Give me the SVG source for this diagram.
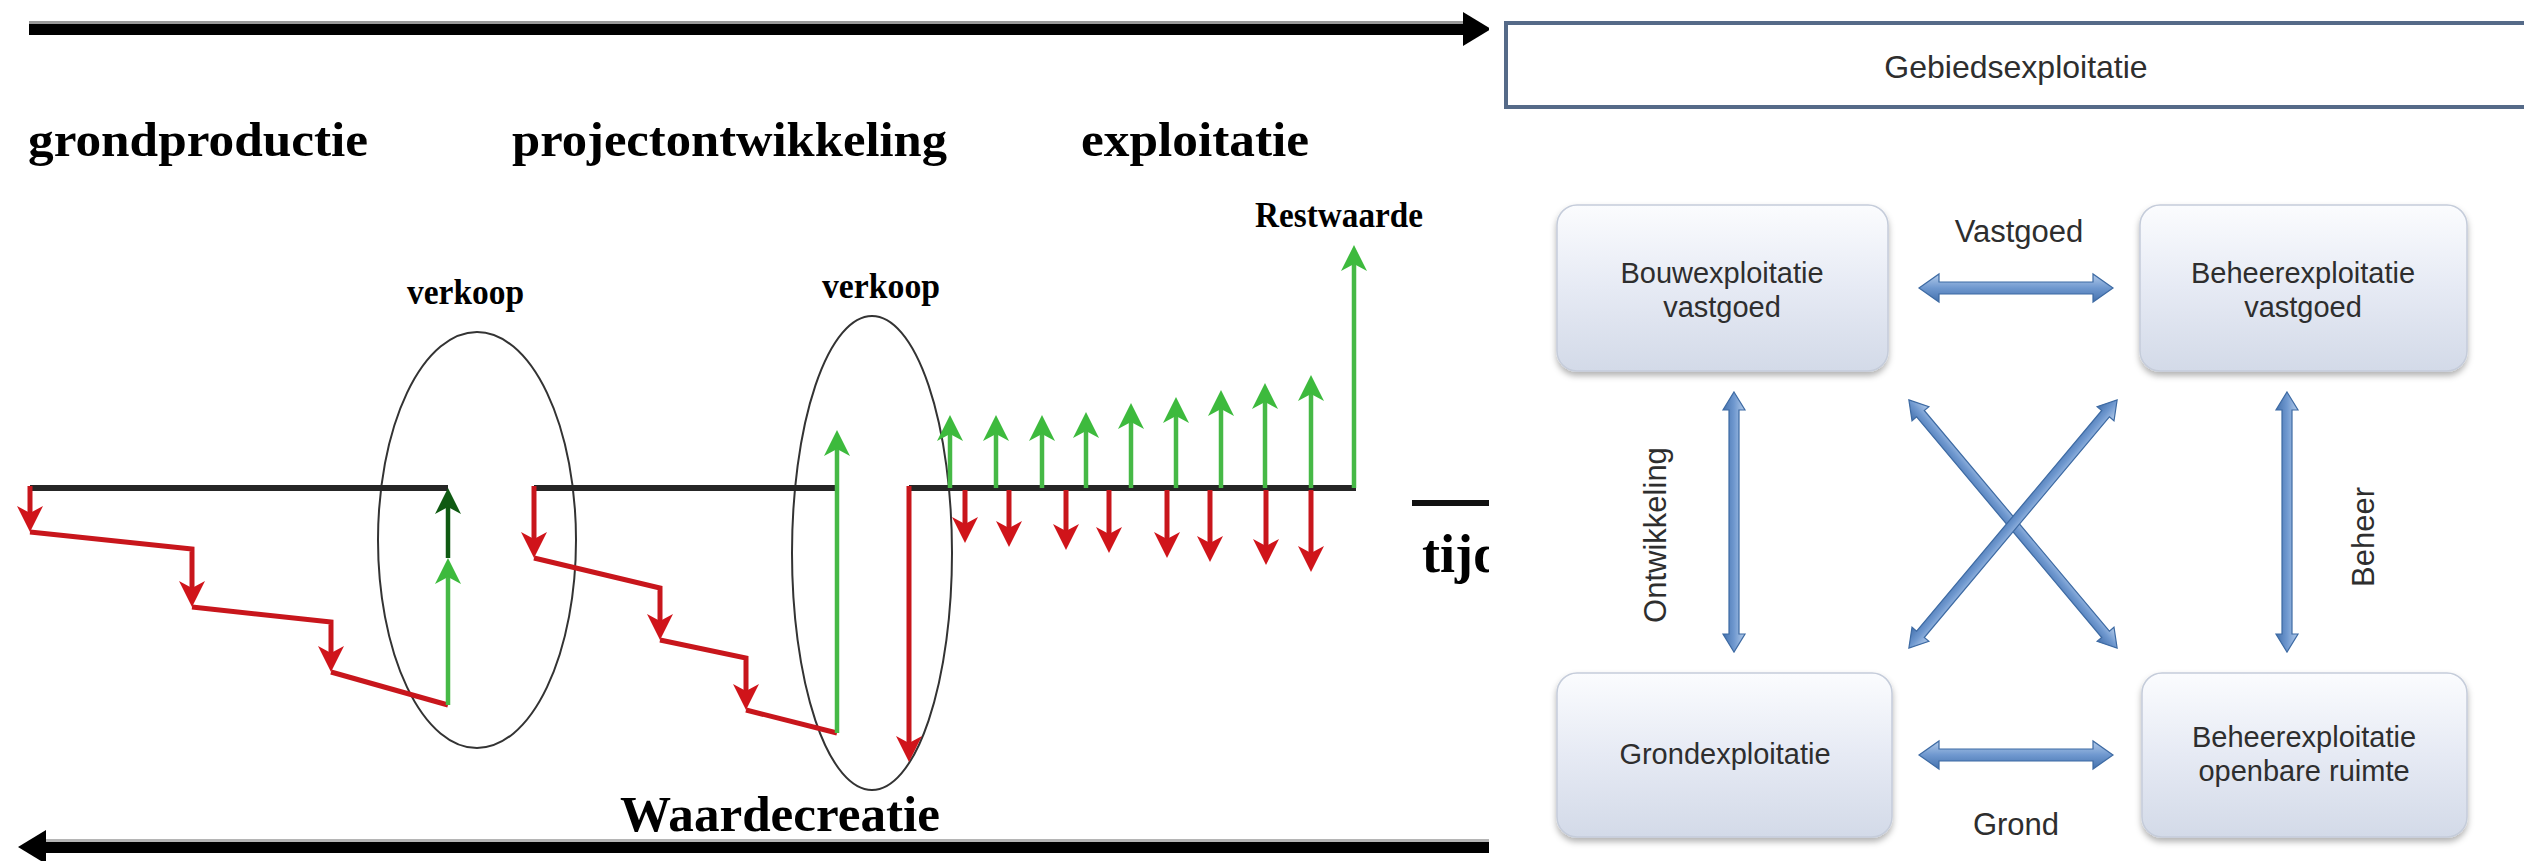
<svg xmlns="http://www.w3.org/2000/svg" width="2524" height="861" viewBox="0 0 2524 861">
<style>
.ser{font-family:"Liberation Serif","Times New Roman",serif;font-weight:bold;fill:#000}
.san{font-family:"Liberation Sans",Arial,sans-serif;fill:#2e2e2e}
.base{stroke:#262626;stroke-width:6;fill:none}
.r{stroke:#c8161c;stroke-width:5;fill:none;stroke-linejoin:miter}
.g{stroke:#46b946;stroke-width:4.5;fill:none}
.dg{stroke:#0f5a12;stroke-width:4.5;fill:none}
.ell{stroke:#333;stroke-width:2;fill:none}
.box{fill:url(#boxg);stroke:#c5ccda;stroke-width:1.5;filter:url(#sh)}
.dar{fill:url(#arg);stroke:#3d6aa3;stroke-width:1.2}
</style>
<defs>
<marker id="mr" viewBox="0 0 26 26" refX="16" refY="13" markerWidth="26" markerHeight="26" markerUnits="userSpaceOnUse" orient="auto"><path d="M26,13 L0,0 L7,13 L0,26 Z" fill="#d0141a"/></marker>
<marker id="mg" viewBox="0 0 26 26" refX="16" refY="13" markerWidth="26" markerHeight="26" markerUnits="userSpaceOnUse" orient="auto"><path d="M26,13 L0,0 L7,13 L0,26 Z" fill="#3dba3d"/></marker>
<marker id="mdg" viewBox="0 0 26 26" refX="16" refY="13" markerWidth="26" markerHeight="26" markerUnits="userSpaceOnUse" orient="auto"><path d="M26,13 L0,0 L7,13 L0,26 Z" fill="#0f5a12"/></marker>
<linearGradient id="boxg" x1="0" y1="0" x2="0" y2="1"><stop offset="0" stop-color="#fbfcfe"/><stop offset="0.5" stop-color="#e6eaf4"/><stop offset="1" stop-color="#d3dae8"/></linearGradient>
<linearGradient id="arg" x1="0" y1="0" x2="0" y2="1"><stop offset="0" stop-color="#b3cbea"/><stop offset="0.5" stop-color="#6f98cf"/><stop offset="1" stop-color="#4471ad"/></linearGradient>
<filter id="sh" x="-10%" y="-10%" width="120%" height="130%"><feDropShadow dx="0" dy="4" stdDeviation="3" flood-color="#000" flood-opacity="0.3"/></filter>
<clipPath id="lc"><rect x="0" y="0" width="1489" height="861"/></clipPath>
</defs>

<g id="left-panel" clip-path="url(#lc)">
<g id="time-arrow">
<rect x="29" y="22" width="1440" height="13" fill="#000"/>
<rect x="29" y="21" width="1440" height="3" fill="#9a9a9a"/>
<polygon points="1463,12 1491,29 1463,46" fill="#000"/>
</g>
<g id="value-arrow">
<rect x="42" y="842" width="1460" height="11" fill="#000"/>
<rect x="42" y="839" width="1460" height="3" fill="#b5b5b5"/>
<polygon points="18,847 46,830 46,864" fill="#000"/>
</g>
<g id="phase-labels">
<text class="ser" x="28" y="156" font-size="48" textLength="340" lengthAdjust="spacingAndGlyphs">grondproductie</text>
<text class="ser" x="512" y="156" font-size="48" textLength="435" lengthAdjust="spacingAndGlyphs">projectontwikkeling</text>
<text class="ser" x="1081" y="156" font-size="48" textLength="228" lengthAdjust="spacingAndGlyphs">exploitatie</text>
</g>
<g id="labels">
<text class="ser" x="407" y="304" font-size="36" textLength="117" lengthAdjust="spacingAndGlyphs">verkoop</text>
<text class="ser" x="822" y="298" font-size="36" textLength="118" lengthAdjust="spacingAndGlyphs">verkoop</text>
<text class="ser" x="1255" y="227" font-size="35" textLength="168" lengthAdjust="spacingAndGlyphs">Restwaarde</text>
<text class="ser" x="620" y="831" font-size="50" textLength="320" lengthAdjust="spacingAndGlyphs">Waardecreatie</text>
<text class="ser" x="1422" y="572" font-size="54">tijd</text>
<line x1="1412" y1="503" x2="1495" y2="503" stroke="#111" stroke-width="6"/>
</g>
<g id="ellipses">
<ellipse class="ell" cx="477" cy="540" rx="99" ry="208"/>
<ellipse class="ell" cx="872" cy="553" rx="80" ry="237"/>
</g>
<g id="connectors-left">
<line class="base" x1="30" y1="488" x2="448" y2="488"/>
<line class="base" x1="534" y1="488" x2="837" y2="488"/>
<line class="base" x1="909" y1="488" x2="1356" y2="488"/>
<path class="r" d="M30,486 L30,522" marker-end="url(#mr)"/>
<path class="r" d="M30,532 L192,549 L192,597" marker-end="url(#mr)"/>
<path class="r" d="M192,607 L331,622 L331,662" marker-end="url(#mr)"/>
<path class="r" d="M331,672 L448,705"/>
<path class="g" d="M448,705 L448,568" marker-end="url(#mg)"/>
<path class="dg" d="M448,558 L448,498" marker-end="url(#mdg)"/>
<path class="r" d="M534,486 L534,548" marker-end="url(#mr)"/>
<path class="r" d="M534,558 L660,588 L660,630" marker-end="url(#mr)"/>
<path class="r" d="M660,640 L746,658 L746,700" marker-end="url(#mr)"/>
<path class="r" d="M746,710 L837,733"/>
<path class="g" d="M837,733 L837,440" marker-end="url(#mg)"/>
<path class="r" d="M909,486 L909,752" marker-end="url(#mr)"/>
<path class="g" d="M950,488 L950,425" marker-end="url(#mg)"/>
<path class="g" d="M996,488 L996,425" marker-end="url(#mg)"/>
<path class="g" d="M1042,488 L1042,425" marker-end="url(#mg)"/>
<path class="g" d="M1086,488 L1086,422" marker-end="url(#mg)"/>
<path class="g" d="M1131,488 L1131,413" marker-end="url(#mg)"/>
<path class="g" d="M1176,488 L1176,407" marker-end="url(#mg)"/>
<path class="g" d="M1221,488 L1221,400" marker-end="url(#mg)"/>
<path class="g" d="M1265,488 L1265,393" marker-end="url(#mg)"/>
<path class="g" d="M1311,488 L1311,385" marker-end="url(#mg)"/>
<path class="g" d="M1354,488 L1354,255" marker-end="url(#mg)"/>
<path class="r" d="M965,490 L965,533" marker-end="url(#mr)"/>
<path class="r" d="M1009,490 L1009,537" marker-end="url(#mr)"/>
<path class="r" d="M1066,490 L1066,540" marker-end="url(#mr)"/>
<path class="r" d="M1109,490 L1109,543" marker-end="url(#mr)"/>
<path class="r" d="M1167,490 L1167,548" marker-end="url(#mr)"/>
<path class="r" d="M1210,490 L1210,552" marker-end="url(#mr)"/>
<path class="r" d="M1266,490 L1266,555" marker-end="url(#mr)"/>
<path class="r" d="M1311,490 L1311,562" marker-end="url(#mr)"/>
</g>
</g>

<g id="gebiedsexploitatie">
<rect x="1506" y="23" width="1030" height="84" fill="#fff" stroke="#556a88" stroke-width="4"/>
<text class="san" x="2016" y="78" font-size="32" text-anchor="middle">Gebiedsexploitatie</text>
</g>

<g id="node-bouwexploitatie">
<rect class="box" x="1557" y="205" width="331" height="166" rx="20"/>
<text class="san" font-size="29" text-anchor="middle"><tspan x="1722" y="283">Bouwexploitatie</tspan><tspan x="1722" y="317">vastgoed</tspan></text>
</g>
<g id="node-beheer-vastgoed">
<rect class="box" x="2140" y="205" width="327" height="166" rx="20"/>
<text class="san" font-size="29" text-anchor="middle"><tspan x="2303" y="283">Beheerexploitatie</tspan><tspan x="2303" y="317">vastgoed</tspan></text>
</g>
<g id="node-grondexploitatie">
<rect class="box" x="1557" y="673" width="335" height="164" rx="20"/>
<text class="san" font-size="29" text-anchor="middle" x="1725" y="764">Grondexploitatie</text>
</g>
<g id="node-beheer-openbare-ruimte">
<rect class="box" x="2142" y="673" width="325" height="164" rx="20"/>
<text class="san" font-size="29" text-anchor="middle"><tspan x="2304" y="747">Beheerexploitatie</tspan><tspan x="2304" y="781">openbare ruimte</tspan></text>
</g>

<g id="connectors-right">
<polygon class="dar" transform="translate(2016,288)" points="-97,0 -77,-14 -77,-6 77,-6 77,-14 97,0 77,14 77,6 -77,6 -77,14"/>
<polygon class="dar" transform="translate(2016,755)" points="-97,0 -77,-14 -77,-6 77,-6 77,-14 97,0 77,14 77,6 -77,6 -77,14"/>
<polygon class="dar" transform="translate(1734,522) rotate(90)" points="-130,0 -112,-11 -112,-5 112,-5 112,-11 130,0 112,11 112,5 -112,5 -112,11"/>
<polygon class="dar" transform="translate(2287,522) rotate(90)" points="-130,0 -112,-11 -112,-5 112,-5 112,-11 130,0 112,11 112,5 -112,5 -112,11"/>
<polygon class="dar" transform="translate(2013,524) rotate(50)" points="-162,0 -144,-11 -144,-5 144,-5 144,-11 162,0 144,11 144,5 -144,5 -144,11"/>
<polygon class="dar" transform="translate(2013,524) rotate(130)" points="-162,0 -144,-11 -144,-5 144,-5 144,-11 162,0 144,11 144,5 -144,5 -144,11"/>
<text class="san" x="2019" y="242" font-size="31" text-anchor="middle">Vastgoed</text>
<text class="san" x="2016" y="835" font-size="31" text-anchor="middle">Grond</text>
<text class="san" font-size="31" text-anchor="middle" transform="translate(1666,535) rotate(-90)">Ontwikkeling</text>
<text class="san" font-size="31" text-anchor="middle" transform="translate(2374,537) rotate(-90)">Beheer</text>
</g>
</svg>
